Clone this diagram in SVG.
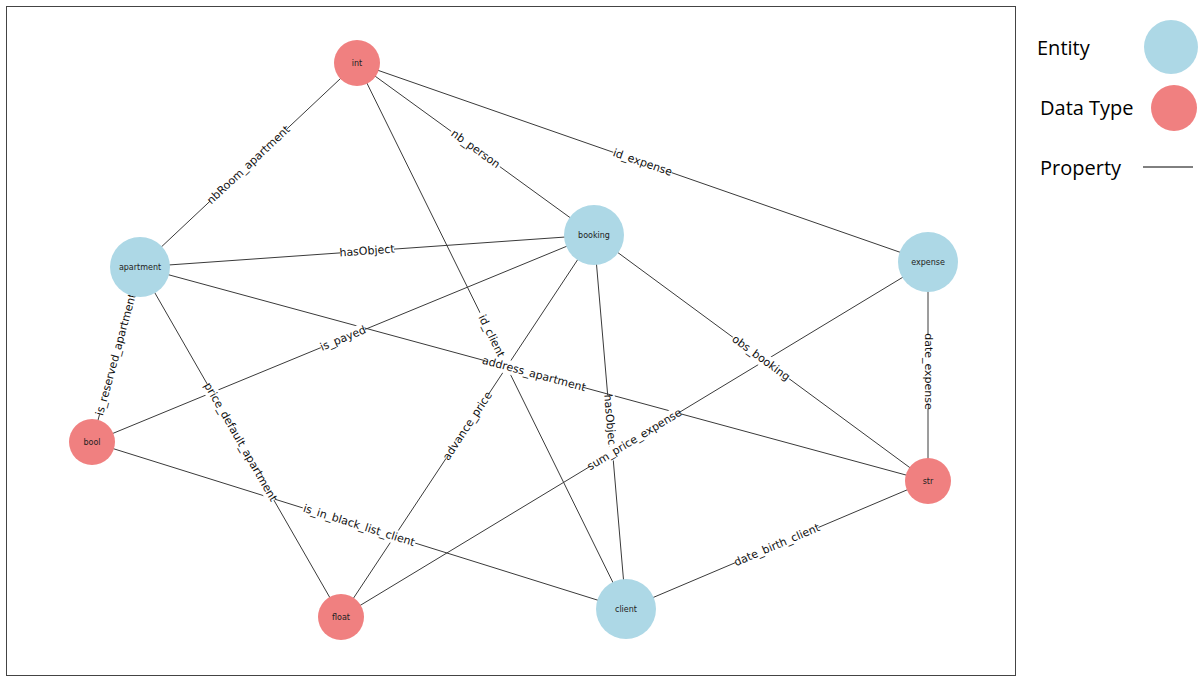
<svg xmlns="http://www.w3.org/2000/svg" width="1200" height="681" viewBox="0 0 1200 681">
<style>
.edge{stroke:#3a3a3a;stroke-width:1;fill:none}
.ent{fill:#add8e6}
.dt{fill:#f08080}
.nl{font-family:"DejaVu Sans",sans-serif;font-size:8px;fill:#222;text-anchor:middle;dominant-baseline:central}
.el{font-family:"DejaVu Sans",sans-serif;font-size:11px;fill:#111;text-anchor:middle;dominant-baseline:central}
.bg{fill:#fff}
.lg{font-family:"Open Sans","Liberation Sans",sans-serif;font-size:20px;fill:#000}
</style>
<rect x="0" y="0" width="1200" height="681" fill="#fff"/>
<rect x="6.5" y="6.5" width="1009" height="669" fill="none" stroke="#444" stroke-width="1"/>
<g id="connectors">
<line class="edge" x1="357" y1="63" x2="140" y2="267"/>
<line class="edge" x1="357" y1="63" x2="594" y2="235"/>
<line class="edge" x1="357" y1="63" x2="928" y2="262"/>
<line class="edge" x1="357" y1="63" x2="626" y2="609"/>
<line class="edge" x1="140" y1="267" x2="594" y2="235"/>
<line class="edge" x1="140" y1="267" x2="92" y2="442"/>
<line class="edge" x1="140" y1="267" x2="341" y2="617"/>
<line class="edge" x1="140" y1="267" x2="928" y2="481"/>
<line class="edge" x1="594" y1="235" x2="92" y2="442"/>
<line class="edge" x1="594" y1="235" x2="341" y2="617"/>
<line class="edge" x1="594" y1="235" x2="626" y2="609"/>
<line class="edge" x1="594" y1="235" x2="928" y2="481"/>
<line class="edge" x1="928" y1="262" x2="341" y2="617"/>
<line class="edge" x1="928" y1="262" x2="928" y2="481"/>
<line class="edge" x1="92" y1="442" x2="626" y2="609"/>
<line class="edge" x1="626" y1="609" x2="928" y2="481"/>
</g>
<g id="edge-labels">
<g transform="translate(248.5,165) rotate(-43.2)"><rect class="bg" x="-53" y="-7" width="106" height="14"/><text class="el">nbRoom_apartment</text></g>
<g transform="translate(475.5,149) rotate(36)"><rect class="bg" x="-30" y="-7" width="60" height="14"/><text class="el">nb_person</text></g>
<g transform="translate(642.5,162.5) rotate(19.2)"><rect class="bg" x="-31" y="-7" width="62" height="14"/><text class="el">id_expense</text></g>
<g transform="translate(491.5,336) rotate(63.8)"><rect class="bg" x="-26" y="-7" width="52" height="14"/><text class="el">id_client</text></g>
<g transform="translate(367,251) rotate(-4)"><rect class="bg" x="-27" y="-7" width="54" height="14"/><text class="el">hasObject</text></g>
<g transform="translate(116,354.5) rotate(-74.7)"><rect class="bg" x="-62" y="-7" width="124" height="14"/><text class="el">is_reserved_apartment</text></g>
<g transform="translate(240.5,442) rotate(60.1)"><rect class="bg" x="-67" y="-7" width="134" height="14"/><text class="el">price_default_apartment</text></g>
<g transform="translate(534,374) rotate(15.2)"><rect class="bg" x="-51" y="-7" width="102" height="14"/><text class="el">address_apartment</text></g>
<g transform="translate(343,338.5) rotate(-22.4)"><rect class="bg" x="-24" y="-7" width="48" height="14"/><text class="el">is_payed</text></g>
<g transform="translate(467.5,426) rotate(-56.5)"><rect class="bg" x="-39" y="-7" width="78" height="14"/><text class="el">advance_price</text></g>
<g transform="translate(610,422) rotate(85.1)"><rect class="bg" x="-27" y="-7" width="54" height="14"/><text class="el">hasObject</text></g>
<g transform="translate(761,358) rotate(36.4)"><rect class="bg" x="-35" y="-7" width="70" height="14"/><text class="el">obs_booking</text></g>
<g transform="translate(634.5,439.5) rotate(-31.2)"><rect class="bg" x="-52" y="-7" width="104" height="14"/><text class="el">sum_price_expense</text></g>
<g transform="translate(928,371.5) rotate(90)"><rect class="bg" x="-37" y="-7" width="74" height="14"/><text class="el">date_expense</text></g>
<g transform="translate(359,525.5) rotate(17.4)"><rect class="bg" x="-59" y="-7" width="118" height="14"/><text class="el">is_in_black_list_client</text></g>
<g transform="translate(777,545) rotate(-23)"><rect class="bg" x="-45" y="-7" width="90" height="14"/><text class="el">date_birth_client</text></g>
</g>
<g id="node-int"><circle class="dt" cx="357" cy="63" r="23"/><text class="nl" x="357" y="63">int</text></g>
<g id="node-apartment"><circle class="ent" cx="140" cy="267" r="30"/><text class="nl" x="140" y="267">apartment</text></g>
<g id="node-booking"><circle class="ent" cx="594" cy="235" r="30"/><text class="nl" x="594" y="235">booking</text></g>
<g id="node-expense"><circle class="ent" cx="928" cy="262" r="30"/><text class="nl" x="928" y="262">expense</text></g>
<g id="node-bool"><circle class="dt" cx="92" cy="442" r="23"/><text class="nl" x="92" y="442">bool</text></g>
<g id="node-str"><circle class="dt" cx="928" cy="481" r="23"/><text class="nl" x="928" y="481">str</text></g>
<g id="node-float"><circle class="dt" cx="341" cy="617" r="23"/><text class="nl" x="341" y="617">float</text></g>
<g id="node-client"><circle class="ent" cx="626" cy="609" r="30"/><text class="nl" x="626" y="609">client</text></g>
<g id="legend">
<text class="lg" x="1037" y="55">Entity</text>
<circle class="ent" cx="1171" cy="47" r="27"/>
<text class="lg" x="1040" y="115">Data Type</text>
<circle class="dt" cx="1174" cy="108" r="23"/>
<text class="lg" x="1040" y="175">Property</text>
<line x1="1143" y1="167" x2="1193" y2="167" stroke="#000" stroke-width="1"/>
</g>
</svg>
